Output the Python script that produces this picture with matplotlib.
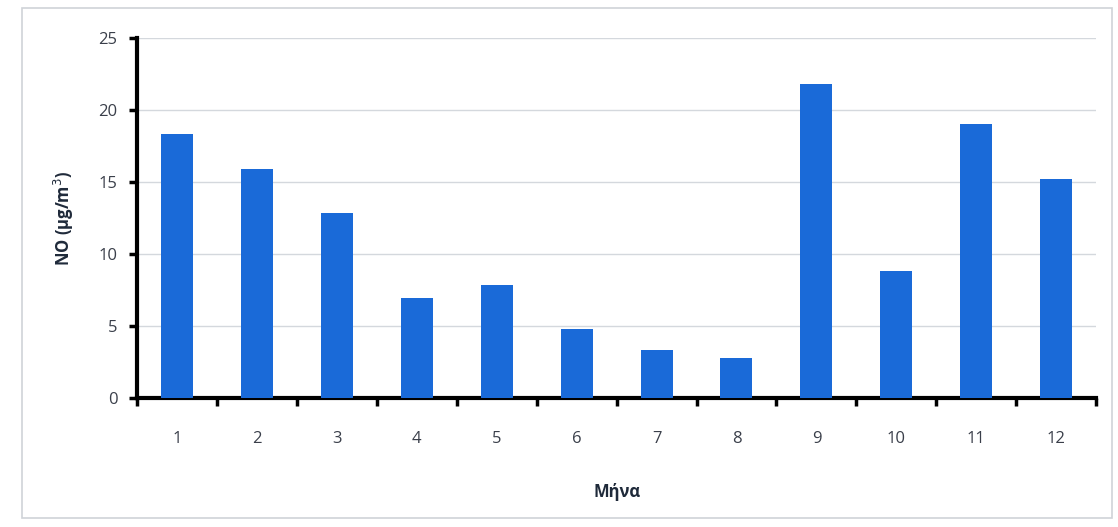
import numpy as np
import matplotlib.pyplot as plt
from matplotlib.patches import Rectangle

plt.rcParams['font.family'] = ['Open Sans', 'DejaVu Sans']

# Μέση μηνιαία συγκέντρωση NO
months = [1, 2, 3, 4, 5, 6, 7, 8, 9, 10, 11, 12]
no_values = [18.3, 15.9, 12.85, 6.95, 7.85, 4.75, 3.35, 2.8, 21.8, 8.8, 19.05, 15.2]
yticks = [0, 5, 10, 15, 20, 25]


def main():
    fig = plt.figure(figsize=(11.18, 5.27), dpi=100)
    ax = fig.add_axes([0.1225, 0.245, 0.858, 0.683])

    x = np.arange(len(months))
    ax.bar(x, no_values, width=0.4, color='#1a6ad8', zorder=3)

    ax.set_xlim(-0.5, len(months) - 0.5)
    ax.set_ylim(0, 25)
    ax.set_yticks(yticks)
    ax.grid(axis='y', color='#d4d8dd', linewidth=1.0, zorder=0)

    # ετικέτες στα κέντρα, γραμμές υποδιαίρεσης στα όρια των κατηγοριών
    ax.set_xticks(x)
    ax.set_xticklabels([str(m) for m in months])
    ax.set_xticks(np.arange(-0.5, len(months)), minor=True)
    ax.tick_params(axis='x', which='major', length=0, pad=24,
                   labelsize=12, labelcolor='#3a3f4a')
    ax.tick_params(axis='x', which='minor', length=6, width=2.5,
                   direction='out', color='black')
    ax.tick_params(axis='y', length=6, width=2.5, color='black',
                   labelsize=12, labelcolor='#3a3f4a', pad=8)

    for side in ['top', 'right']:
        ax.spines[side].set_visible(False)
    ax.spines['left'].set_linewidth(3)
    ax.spines['bottom'].set_linewidth(3)

    ax.set_ylabel('NO (μg/m$^3$)', fontsize=12, fontweight='bold',
                  color='#1f2a3a', labelpad=16)
    ax.set_xlabel('Μήνα', fontsize=12, fontweight='bold',
                  color='#1f2a3a', labelpad=26)

    fig.patches.append(Rectangle((0.02, 0.017), 0.975, 0.968,
                                 transform=fig.transFigure, fill=False,
                                 edgecolor='#cfd3d8', linewidth=1.2))

    plt.savefig('out.png')


if __name__ == '__main__':
    main()
